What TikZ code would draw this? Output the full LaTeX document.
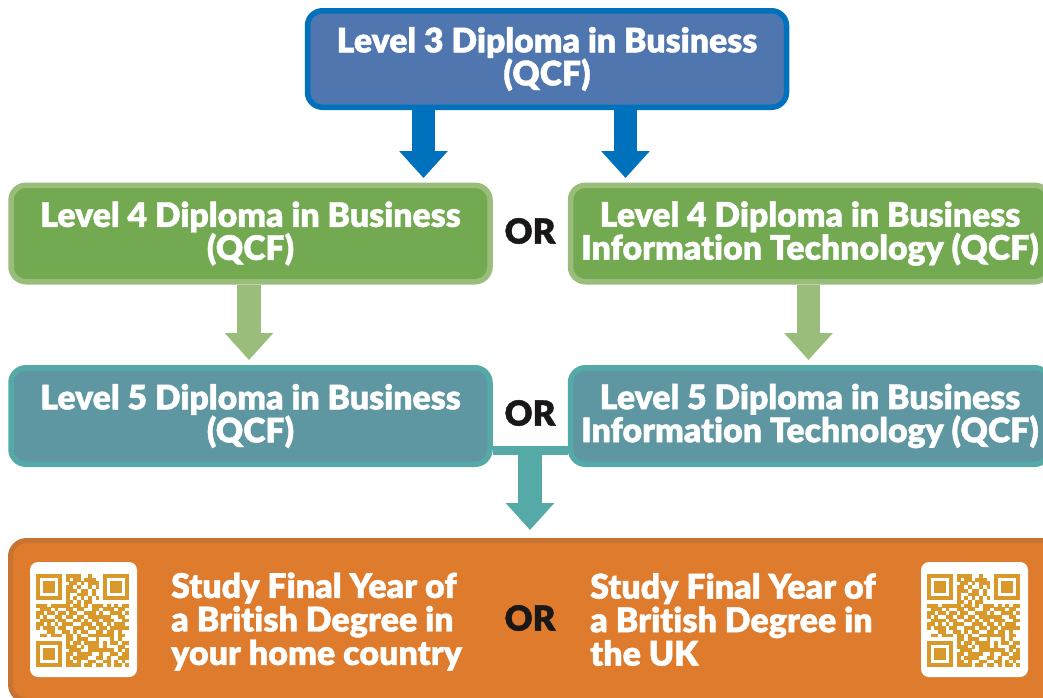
\documentclass[tikz,border=0pt]{standalone}
\usepackage{fontspec}
\setmainfont{Lato}[BoldFont={Lato Black},Ligatures=NoCommon,BoldFeatures={FakeBold=1.2}]
\usetikzlibrary{arrows.meta,calc}
\definecolor{blueedge}{HTML}{0071BC}
\definecolor{bluefill}{HTML}{4F76AE}
\definecolor{greenfill}{HTML}{73A951}
\definecolor{greenedge}{HTML}{9ABD7C}
\definecolor{tealfill}{HTML}{5E97A1}
\definecolor{tealedge}{HTML}{55A9A6}
\definecolor{orangefill}{HTML}{DE7B2C}
\definecolor{orangeedge}{HTML}{C87233}
\definecolor{qrink}{HTML}{D9982A}
\definecolor{orblack}{HTML}{1A1718}
\tikzset{
  lvlbox/.style={rounded corners=15pt,line width=5.5pt,minimum width=479pt,minimum height=96.5pt,
    inner sep=0pt,text=white,align=center,font=\fontsize{33.8}{33}\selectfont\bfseries},
  blueb/.style={lvlbox,draw=blueedge,fill=bluefill},
  greenb/.style={lvlbox,draw=greenedge,fill=greenfill},
  tealb/.style={lvlbox,draw=tealedge,fill=tealfill},
  ortext/.style={text=orblack,font=\fontsize{34.5}{33}\selectfont\bfseries,inner sep=0pt},
  studytext/.style={text=white,align=left,anchor=west,inner sep=0pt,font=\fontsize{34}{33.5}\selectfont\bfseries},
  barrow/.style={line width=23.5pt,draw=#1,-{Triangle[length=27pt,width=47pt,color=#1]}},
  qrcard/.style={fill=white,rounded corners=8pt,minimum width=107pt,minimum height=115pt,inner sep=0pt},
}
\newcount\qrcol
\def\qrscan#1{\ifx#1;\else
  \if#11\fill[qrink] ({\the\qrcol*3.72},{\qrrow*3.72}) rectangle ++(3.82,3.82);\fi
  \advance\qrcol by 1 \expandafter\qrscan\fi}
\def\qrcode#1{\begin{scope}[shift={(#1)}]
  \foreach \qrline [count=\qrrow from 0] in {
1111111011110010001111111,
1000001010110111001000001,
1011101001101011101011101,
1011101011010010101011101,
1011101011101101001011101,
1000001010011101001000001,
1111111010101010101111111,
0000000011010110000000000,
1110111110110101110101011,
0111010011011001101110110,
1101101101100111010011101,
1010011011011011111100110,
0111101100110101101110011,
1101010111001110110101110,
1011101100111011011011111,
0001100110101100110110100,
0110111011010011111110110,
0000000011011100100010100,
1111111010110111101011011,
1000001011101011101000110,
1011101001110011111110101,
1011101011011110010011011,
1011101010111100110100111,
1000001011010011001101010,
1111111011110110110101101}{\qrcol=0 \expandafter\qrscan\qrline;}
\end{scope}}
\begin{document}
\begin{tikzpicture}[x=1pt,y=-1pt]
\useasboundingbox (0,0) rectangle (1043,697);
\clip (0,0) rectangle (1043,697);
\node[greenb] (g1) at (250.5,233.5) {Level 4 Diploma in Business\\(QCF)};
\node[greenb] (g2) at (810,233.5) {Level 4 Diploma in Business\\Information Technology (QCF)};
\node[tealb] (t1) at (250.5,416) {Level 5 Diploma in Business\\(QCF)};
\node[tealb] (t2) at (810,416) {Level 5 Diploma in Business\\Information Technology (QCF)};
\node[blueb] (top) at (547,59) {Level 3 Diploma in Business\\(QCF)};
\node[rounded corners=16pt,draw=orangeedge,fill=orangefill,line width=5pt,minimum width=1060pt,minimum height=160pt,inner sep=0pt] (study) at (540.5,620.5) {};
\node[ortext] (or1) at (530,231) {OR};
\node[ortext] (or2) at (530,413) {OR};
\node[ortext] (or3) at (530,618) {OR};
\node[studytext] (s1) at (171,621.5) {Study Final Year of\\a British Degree in\\your home country};
\node[studytext] (s2) at (590,619.5) {Study Final Year of\\a British Degree in\\the UK};
\node[qrcard] (q1) at (83.5,619.5) {};
\node[qrcard] (q2) at (974.5,619.5) {};
\qrcode{36,574}
\qrcode{927,574}
\coordinate (a1) at (423.5,178);
\coordinate (a2) at (625.5,178);
\coordinate (a3) at (249,360);
\coordinate (a4) at (808.5,360);
\coordinate (a5) at (530,530);
\coordinate (j) at (530,450.5);
\draw[barrow=blueedge] (top.south -| a1) -- (a1);
\draw[barrow=blueedge] (top.south -| a2) -- (a2);
\draw[barrow=greenedge] (g1.south -| a3) -- (a3);
\draw[barrow=greenedge] (g2.south -| a4) -- (a4);
\draw[tealedge,line width=9pt] (t1.east |- j) -- (t2.west |- j);
\draw[barrow=tealedge] (j) -- (a5);
\end{tikzpicture}
\end{document}
